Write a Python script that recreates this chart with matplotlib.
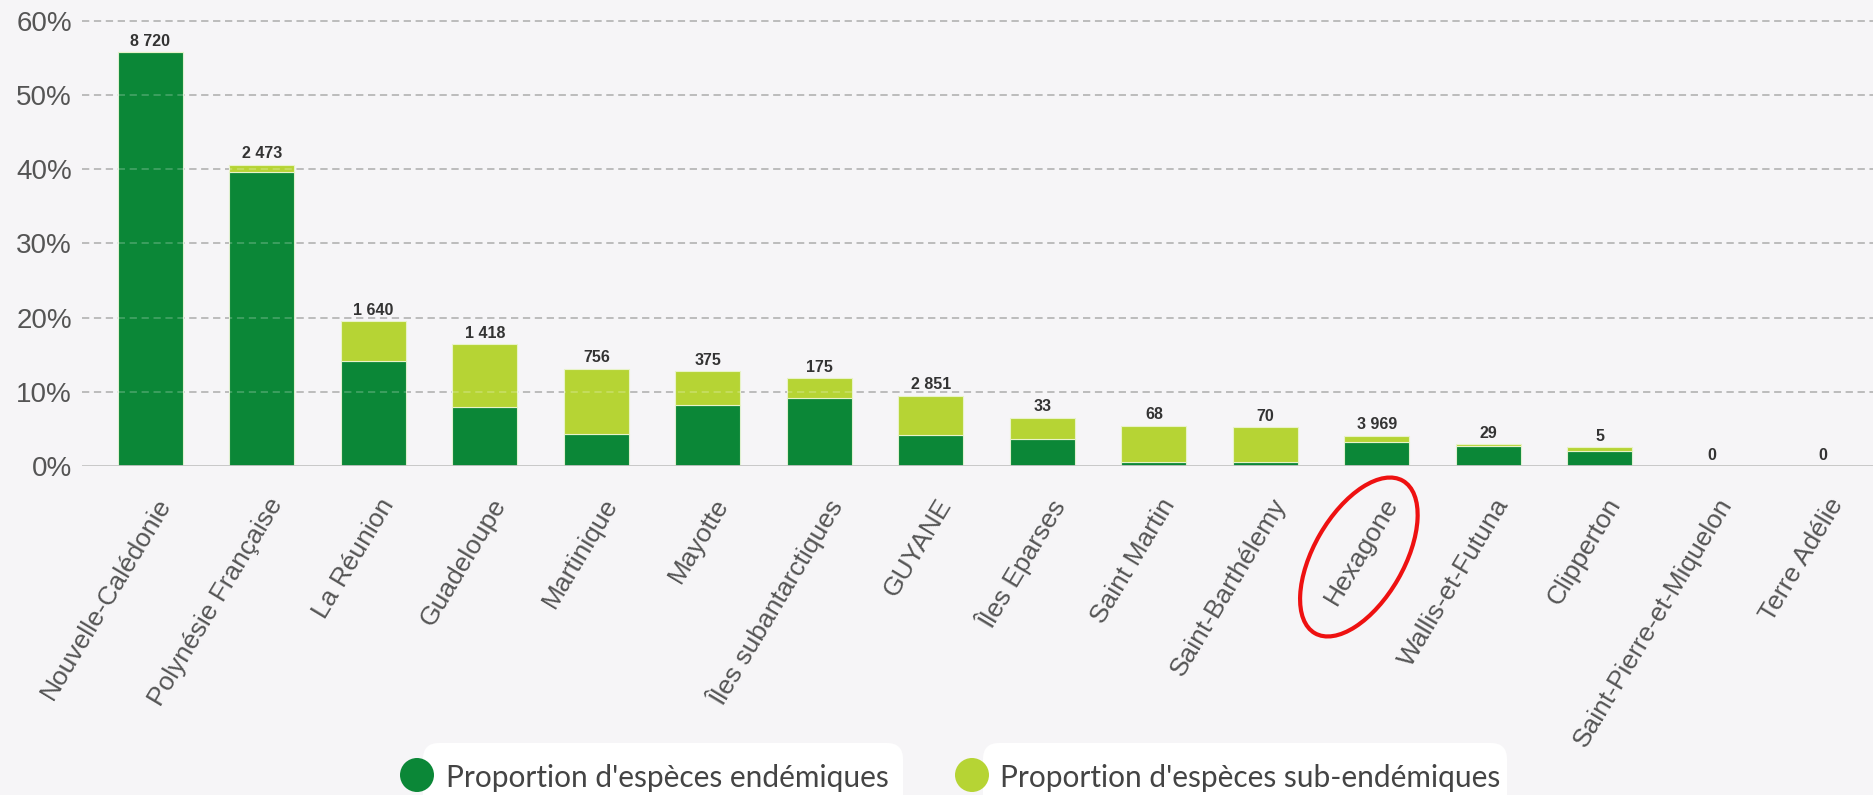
import matplotlib
matplotlib.use("Agg")
import matplotlib.pyplot as plt
from matplotlib import font_manager
from matplotlib.patches import Ellipse, Circle, FancyBboxPatch
from matplotlib.transforms import ScaledTranslation, IdentityTransform
import numpy as np

# data (values in %)
categories = ["Nouvelle-Calédonie", "Polynésie Française", "La Réunion", "Guadeloupe",
              "Martinique", "Mayotte", "Îles subantarctiques", "GUYANE", "Îles Eparses",
              "Saint Martin", "Saint-Barthélemy", "Hexagone", "Wallis-et-Futuna",
              "Clipperton", "Saint-Pierre-et-Miquelon", "Terre Adélie"]
endemic = [55.8, 39.6, 14.2, 8.0, 4.3, 8.2, 9.1, 4.2, 3.6, 0.5, 0.6, 3.3, 2.7, 2.0, 0.0, 0.0]
subendemic = [0.0, 1.0, 5.3, 8.4, 8.8, 4.6, 2.7, 5.3, 2.9, 4.9, 4.6, 0.8, 0.2, 0.5, 0.0, 0.0]
counts = ["8 720", "2 473", "1 640", "1 418", "756", "375", "175", "2 851", "33",
          "68", "70", "3 969", "29", "5", "0", "0"]
yticks = [0, 10, 20, 30, 40, 50, 60]
legend_labels = ["Proportion d'espèces endémiques", "Proportion d'espèces sub-endémiques"]

BG = "#f6f5f7"
DARK = "#0b8737"
LIGHT = "#b6d434"
TXT = "#555555"


def pick_font(names):
    for n in names:
        try:
            font_manager.findfont(font_manager.FontProperties(family=n), fallback_to_default=False)
            return n
        except Exception:
            continue
    return "DejaVu Sans"


base_font = pick_font(["Liberation Sans", "Arial", "DejaVu Sans"])
narrow_font = pick_font(["Liberation Sans Narrow", "DejaVu Sans Condensed", "Liberation Sans"])
legend_font = pick_font(["Lato", "Open Sans", "DejaVu Sans"])
plt.rcParams["font.family"] = [base_font, "DejaVu Sans"]

W, H = 1873, 795
fig = plt.figure(figsize=(W / 100, H / 100), dpi=100, facecolor=BG)
ax = fig.add_axes([82 / W, 329 / H, (W - 82) / W, 448.9 / H])
ax.set_facecolor(BG)

x = np.arange(len(categories))
top = np.array(endemic) + np.array(subendemic)

# grid behind the bars
for v in yticks[1:]:
    ax.axhline(v, color="#a6a6a6", lw=1.3, ls=(0, (4.0, 2.6)), zorder=1)

ax.bar(x, endemic, width=0.583, color=DARK, edgecolor="#dff0cf", linewidth=0.8, zorder=2)
ax.bar(x, subendemic, width=0.583, bottom=endemic, color=LIGHT, edgecolor="#e8f3c8",
       linewidth=0.8, zorder=2)

# faint dashes showing through the bars
for v in yticks[1:]:
    ax.axhline(v, color="white", alpha=0.22, lw=1.3, ls=(0, (4.0, 2.6)), zorder=3)

ax.axhline(0, color="#c4c4c4", lw=2.0, zorder=4)

for xi, t, c in zip(x, top, counts):
    ax.annotate(c, (xi, t), xytext=(0, 2.5), textcoords="offset points", ha="center",
                va="bottom", fontsize=11.5, fontweight="bold", color="#333333",
                family=[narrow_font, "DejaVu Sans"], zorder=5)

ax.set_xlim(-0.614, 15.45)
ax.set_ylim(0, 60.5)
ax.set_yticks(yticks)
ax.set_yticklabels([f"{v}%" for v in yticks])
ax.set_xticks(x)
ax.set_xticklabels(categories)
ax.tick_params(axis="y", length=0, pad=7.2, labelsize=20, labelcolor=TXT)
ax.tick_params(axis="x", length=0, pad=0, labelsize=19, labelcolor=TXT)
for s in ax.spines.values():
    s.set_visible(False)

shift = ScaledTranslation(5 / 100, -28 / 100, fig.dpi_scale_trans)
for lab in ax.get_xticklabels():
    lab.set_rotation(59)
    lab.set_ha("right")
    lab.set_va("top")
    lab.set_rotation_mode("anchor")
    lab.set_transform(lab.get_transform() + shift)

# legend drawn by hand in pixel coordinates
ident = IdentityTransform()
pills = [(423, 480), (983, 524)]
circles = [417, 972]
texts_x = [446, 1000]
for (px, pw), cx, tx, col, lab in zip(pills, circles, texts_x, [DARK, LIGHT], legend_labels):
    fig.add_artist(FancyBboxPatch((px, -30), pw, 82, boxstyle="round,pad=0,rounding_size=16",
                                  transform=ident, facecolor="white", edgecolor="none"))
    fig.add_artist(Circle((cx, 20), 17, transform=ident, facecolor=col, edgecolor="none"))
    fig.text(tx / W, 8 / H, lab, fontsize=21.5, color="#444444", va="baseline", ha="left",
             family=[legend_font, "DejaVu Sans"])

# red ellipse around the "Hexagone" label
cx, cy = ax.transData.transform((categories.index("Hexagone"), 0))
fig.add_artist(Ellipse((cx - 18, cy - 91), 176, 90, angle=60, transform=ident,
                       fill=False, edgecolor="#ee1111", linewidth=3))

fig.savefig("out.png", dpi=100, facecolor=BG)
